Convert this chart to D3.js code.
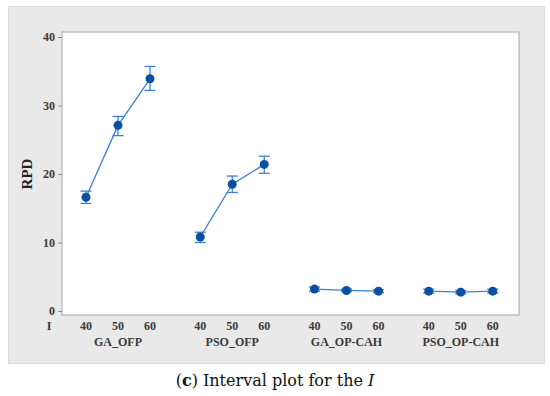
<!DOCTYPE html>
<html>
<head>
<meta charset="utf-8">
<script src="https://cdn.jsdelivr.net/npm/d3@7/dist/d3.min.js"></script>
<style>
  body { margin: 0; background: #fff; }
  svg { display: block; }
</style>
</head>
<body>
<div id="chart"></div>
<script>
const groups = ["GA_OFP", "PSO_OFP", "GA_OP-CAH", "PSO_OP-CAH"];
const levels = [40, 50, 60];
// mean RPD per group, per level
const means = [
  [16.6, 27.1, 33.9],
  [10.8, 18.5, 21.4],
  [3.2, 3.0, 2.9],
  [2.9, 2.75, 2.9]
];
const lows = [
  [15.7, 25.6, 32.2],
  [10.0, 17.3, 20.1],
  [2.9, 2.8, 2.7],
  [2.6, 2.5, 2.6]
];
const highs = [
  [17.5, 28.4, 35.7],
  [11.5, 19.7, 22.6],
  [3.5, 3.2, 3.1],
  [3.2, 3.0, 3.2]
];
const yTicks = [0, 10, 20, 30, 40];

const width = 550, height = 396;
const plot = { left: 62, top: 32, right: 519, bottom: 315 };

const svg = d3.select("#chart").append("svg")
  .attr("width", width)
  .attr("height", height);

// grey panel
svg.append("rect")
  .attr("x", 8.5).attr("y", 6.5)
  .attr("width", 536).attr("height", 357)
  .attr("fill", "#e9e9e9")
  .attr("stroke", "#dcdcdc");

// white plot area
svg.append("rect")
  .attr("x", plot.left).attr("y", plot.top)
  .attr("width", plot.right - plot.left).attr("height", plot.bottom - plot.top)
  .attr("fill", "#fff")
  .attr("stroke", "#a8a8a8");

const y = d3.scaleLinear().domain([0, 40]).range([311, 37]);

// x: one band per group, point scale inside each
const xGroup = d3.scaleBand().domain(groups).range([29, 486]).paddingInner(0).paddingOuter(0);
const xLevel = d3.scalePoint().domain(levels).range([57, 121]);
const xPos = (g, l) => xGroup(g) + xLevel(l);

// y axis
const yAxis = svg.append("g")
  .attr("transform", `translate(${plot.left},0)`)
  .call(d3.axisLeft(y).tickValues(yTicks).tickSize(4).tickPadding(3));
yAxis.select(".domain").remove();
yAxis.selectAll("line").attr("stroke", "#888");
yAxis.selectAll("text")
  .attr("font-family", "Liberation Serif, serif")
  .attr("font-size", 12)
  .attr("font-weight", "bold")
  .attr("fill", "#3a3a3a");

svg.append("text")
  .attr("transform", "translate(32,174) rotate(-90)")
  .attr("text-anchor", "middle")
  .attr("font-family", "Liberation Serif, serif")
  .attr("font-size", 15)
  .attr("font-weight", "bold")
  .attr("fill", "#222")
  .text("RPD");

// x tick labels
const xLab = svg.append("g")
  .attr("font-family", "Liberation Serif, serif")
  .attr("font-weight", "bold")
  .attr("fill", "#3a3a3a")
  .attr("text-anchor", "middle");

xLab.append("text").attr("x", 49).attr("y", 330).attr("font-size", 12).text("I");

groups.forEach(g => {
  levels.forEach(l => {
    xLab.append("text")
      .attr("x", xPos(g, l)).attr("y", 330)
      .attr("font-size", 12)
      .text(l);
  });
  xLab.append("text")
    .attr("x", xPos(g, 50)).attr("y", 346)
    .attr("font-size", 12)
    .text(g);
});

// series
const lineColor = "#3d7fd4";
const dotColor = "#0b4fa3";

groups.forEach((g, gi) => {
  const pts = levels.map((l, li) => ({ l, m: means[gi][li], lo: lows[gi][li], hi: highs[gi][li] }));

  svg.append("path")
    .datum(pts)
    .attr("fill", "none")
    .attr("stroke", lineColor)
    .attr("stroke-width", 1.3)
    .attr("d", d3.line().x(d => xPos(g, d.l)).y(d => y(d.m)));

  const eb = svg.append("g").attr("stroke", lineColor).attr("stroke-width", 1.3);
  pts.forEach(d => {
    const cx = xPos(g, d.l);
    eb.append("line").attr("x1", cx).attr("x2", cx).attr("y1", y(d.lo)).attr("y2", y(d.hi));
    eb.append("line").attr("x1", cx - 5.5).attr("x2", cx + 5.5).attr("y1", y(d.lo)).attr("y2", y(d.lo));
    eb.append("line").attr("x1", cx - 5.5).attr("x2", cx + 5.5).attr("y1", y(d.hi)).attr("y2", y(d.hi));
  });

  svg.append("g").selectAll("circle")
    .data(pts)
    .join("circle")
      .attr("cx", d => xPos(g, d.l))
      .attr("cy", d => y(d.m))
      .attr("r", 4.5)
      .attr("fill", dotColor);
});

// caption
const cap = svg.append("text")
  .attr("x", 275).attr("y", 386)
  .attr("text-anchor", "middle")
  .attr("font-family", "DejaVu Serif, serif")
  .attr("font-size", 16)
  .attr("fill", "#111");
cap.append("tspan").text("(");
cap.append("tspan").attr("font-weight", "bold").text("c");
cap.append("tspan").text(") Interval plot for the  ");
cap.append("tspan").attr("font-style", "italic").text("I");
</script>
</body>
</html>
